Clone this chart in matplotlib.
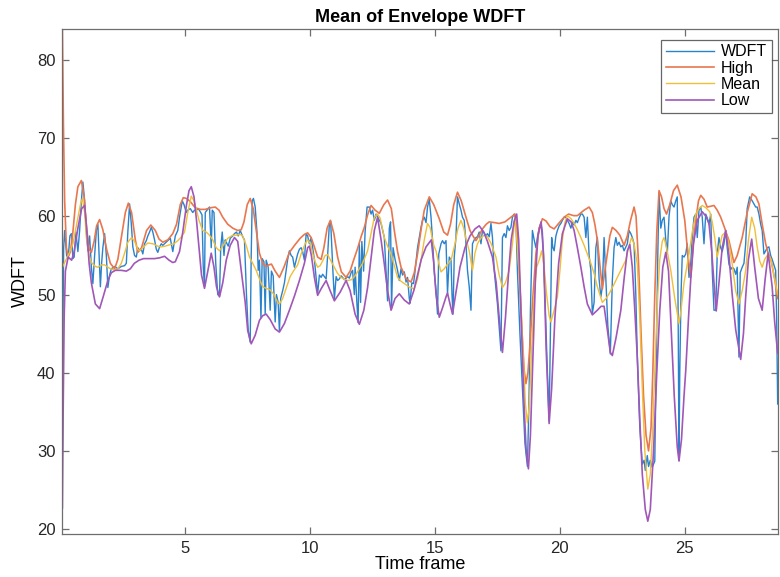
import matplotlib
matplotlib.use("Agg")
import matplotlib.pyplot as plt

plt.rcParams['font.family'] = ['Liberation Sans', 'DejaVu Sans']

# ---------------- data ----------------
wdft_x = [0.08, 0.1, 0.13, 0.17, 0.25, 0.31, 0.38, 0.44, 0.5, 0.55, 0.62, 0.7, 0.77, 0.84, 0.9, 0.97,
          1.04, 1.1, 1.17, 1.24, 1.3, 1.37, 1.44, 1.5, 1.55, 1.6, 1.65, 1.7, 1.77, 1.84, 1.9, 1.97,
          2.04, 2.17, 2.3, 2.44, 2.57, 2.64, 2.7, 2.77, 2.84, 2.9, 2.97, 3.04, 3.1, 3.17, 3.24, 3.3,
          3.37, 3.44, 3.5, 3.57, 3.64, 3.7, 3.77, 3.84, 3.9, 3.97, 4.04, 4.1, 4.2, 4.3, 4.4, 4.5,
          4.6, 4.7, 4.77, 4.88, 4.95, 5.04,
          5.1, 5.2, 5.3, 5.37, 5.44, 5.52, 5.6, 5.67, 5.72, 5.77, 5.8, 5.87, 5.97, 6.04, 6.08, 6.15,
          6.22, 6.3, 6.37, 6.42, 6.48, 6.55, 6.6, 6.64, 6.72, 6.8, 6.9, 6.97, 7.05, 7.12, 7.2, 7.3,
          7.37, 7.45, 7.52, 7.6, 7.64, 7.68, 7.73, 7.8, 7.87, 7.92, 7.97, 8.03, 8.08, 8.15, 8.2, 8.24,
          8.32, 8.4, 8.45, 8.52, 8.6, 8.65, 8.72, 8.77, 8.82, 8.9, 8.97, 9.04, 9.1, 9.17, 9.24, 9.3,
          9.37, 9.44, 9.5, 9.57, 9.64, 9.7, 9.77, 9.84,
          9.9, 9.97, 10.04, 10.1, 10.17, 10.24, 10.3, 10.37, 10.44, 10.5, 10.57, 10.64, 10.7, 10.77,
          10.82, 10.88, 10.91, 10.97, 11.04, 11.1, 11.17, 11.24, 11.3, 11.37, 11.44, 11.5, 11.57,
          11.64, 11.7, 11.77, 11.8, 11.87, 11.92, 11.97, 12.02, 12.07, 12.14, 12.2, 12.28, 12.37,
          12.44, 12.5, 12.57, 12.64, 12.77, 12.84, 12.97, 13.04, 13.1, 13.17, 13.22, 13.26, 13.32,
          13.4, 13.5, 13.57, 13.64, 13.7, 13.77, 13.84, 13.9, 13.97, 14.0, 14.07, 14.14, 14.2, 14.3,
          14.44, 14.5, 14.57, 14.64, 14.7, 14.77,
          14.84, 14.9, 14.97, 15.04, 15.1, 15.15, 15.24, 15.3, 15.37, 15.44, 15.5, 15.57, 15.64,
          15.68, 15.72, 15.77, 15.84, 15.9, 15.97, 16.04, 16.1, 16.17, 16.24, 16.3, 16.37, 16.44,
          16.5, 16.57, 16.64, 16.7, 16.77, 16.84, 16.9, 16.97, 17.04, 17.1, 17.17, 17.24, 17.3,
          17.37, 17.5, 17.64, 17.7, 17.77, 17.84, 17.9, 17.97, 18.04, 18.1, 18.17, 18.24, 18.3,
          18.4, 18.5, 18.6, 18.7, 18.76, 18.82, 18.9, 18.97, 19.04, 19.1, 19.17, 19.24, 19.3, 19.4,
          19.5, 19.57, 19.62, 19.67, 19.72, 19.77, 19.84, 19.9,
          19.97, 20.04, 20.1, 20.17, 20.24, 20.3, 20.37, 20.44, 20.5, 20.57, 20.64, 20.7, 20.77,
          20.84, 20.9, 20.97, 21.04, 21.1, 21.17, 21.24, 21.3, 21.37, 21.44, 21.5, 21.57, 21.64,
          21.7, 21.77, 21.84, 21.92, 22.02, 22.1, 22.17, 22.24, 22.3, 22.37, 22.44, 22.5, 22.57,
          22.64, 22.7, 22.77, 22.84, 22.9, 22.97, 23.04, 23.1, 23.2, 23.3, 23.37, 23.42, 23.5,
          23.55, 23.62, 23.7, 23.8, 23.85, 23.92, 23.97, 24.04, 24.1, 24.17, 24.24, 24.3, 24.37,
          24.44, 24.5, 24.57, 24.64, 24.7, 24.74, 24.77, 24.8,
          24.85, 24.9, 24.97, 25.04, 25.1, 25.17, 25.24, 25.3, 25.37, 25.44, 25.5, 25.57, 25.64,
          25.7, 25.77, 25.84, 25.9, 25.97, 26.04, 26.1, 26.17, 26.24, 26.3, 26.37, 26.44, 26.5,
          26.57, 26.64, 26.7, 26.77, 26.84, 26.9, 26.97, 27.04, 27.1, 27.17, 27.22, 27.3, 27.37,
          27.44, 27.5, 27.6, 27.7, 27.77, 27.84, 27.9, 27.97, 28.04, 28.1, 28.17, 28.24, 28.3,
          28.37, 28.44, 28.5, 28.57, 28.64, 28.68, 28.72]
wdft_y = [29.5, 45, 56, 58.2, 55, 54.6, 57.5, 57.8, 54.6, 54.8, 58, 55.5, 58.2, 62, 64.4, 62,
          58, 55.6, 57.5, 53.5, 51.4, 55, 58.2, 59, 55, 51, 54, 56, 57.8, 55, 50.9, 52.5,
          53.3, 53.6, 53.3, 53.6, 53.7, 54, 58, 61.6, 59, 56.1, 55, 54.8, 56, 55.6, 55.8, 55.2,
          56.5, 56.9, 57.5, 58, 58.6, 58, 57, 55.8, 55.4, 56.1, 56.5, 56.3, 56.6, 56.9, 57.2, 55.5,
          57.5, 58.2, 59.9, 62, 61.5, 60.5,
          60.8, 61, 60.5, 60.8, 60.8, 61, 60.6, 60.2, 53.5, 51, 60.5, 60.8, 61.2, 56, 60.8, 60.5,
          54, 50, 49.8, 56, 58, 55, 57, 56.7, 56.2, 57.2, 57.5, 57.8, 58, 57.5, 58.2, 57.4,
          57, 50, 45.4, 43.9, 55, 62, 62.3, 61.2, 58, 53.1, 54.4, 47, 54.6, 54.2, 47.5, 54.4,
          53.5, 48, 53, 52.4, 46.5, 50, 49, 45.3, 49.5, 50.5, 51.5, 53.1, 54.5, 55.6, 55, 54.8,
          53.5, 54.4, 55.2, 55.8, 56, 55.5, 54.4, 57.8,
          57.5, 56.5, 57.3, 56, 54.5, 52.2, 50.1, 52.5, 52.2, 52.6, 52.3, 52, 55, 59.1,
          59.4, 55, 53.1, 49.4, 52.3, 51.8, 52, 52.4, 52.2, 51.9, 52.1, 52.3, 52.1,
          52.8, 53.1, 50, 53.5, 49, 46.4, 56.5, 49, 56.8, 53, 58, 61.2, 61.2,
          60.3, 60.8, 59.5, 60.3, 59.5, 59.1, 57.3, 53, 49.2, 58.5, 59.3, 48.2, 56,
          54.5, 53.1, 51.8, 53.3, 52.5, 52.9, 51.6, 52.2, 49.5, 48.9, 51.5, 51.4, 53, 56,
          58.6, 59.5, 59.9, 59.2, 61.2, 62.2,
          59.9, 57, 52.9, 50.5, 47.5, 55.2, 56.5, 56.9, 56.5, 56.9, 50.1, 54.8, 54.4,
          50, 47.5, 54.8, 57.4, 62.5, 61.6, 60.8, 59.9, 59.5, 56.5, 53.1, 51, 48,
          56.5, 57, 57.3, 57.4, 58, 56.5, 58.2, 57.9, 57.5, 57.8, 57.4, 59.1, 57.3,
          53.1, 48.8, 42.8, 57.3, 57.8, 57.3, 58.8, 58.2, 58.6, 59.9, 60.3, 59.5, 53,
          45, 38, 31, 28, 36, 48, 58.2, 57, 56, 57.3, 58.5, 59.1, 58, 50,
          40, 33.8, 45, 57.3, 56, 55.6, 57.5, 58.2,
          58.8, 59.1, 59.5, 59.9, 59.9, 59.5, 59.1, 58.5, 59.2, 58.9, 59.5, 59.2, 59.8,
          60.3, 60.3, 59.9, 57.3, 59.9, 55, 53.1, 47.6, 49, 56, 57.3, 52, 49.7,
          51, 57.3, 52, 46, 42.4, 51.8, 56, 57.3, 56.3, 56.7, 56.1, 56.3, 55.6,
          56.1, 56.5, 58.2, 57.8, 57.3, 56.5, 50, 42, 33, 28.3, 28.8, 27.5, 29.4,
          28, 28.8, 27.9, 28.7, 40, 55, 63, 58.5, 59.5, 59.9, 57, 55.2, 60,
          62, 61.5, 61.2, 62, 62.5, 45, 28.8, 40,
          50, 55, 54.8, 55.2, 56.5, 52.2, 54, 57.3, 59.9, 60.3, 57.3, 60.8, 61.2,
          59.9, 56.5, 60.3, 59.8, 59, 60.3, 53.1, 48, 48, 55.2, 57.3, 56, 55.5,
          56.5, 58.2, 56, 53.9, 53.2, 53.5, 53.3, 52.6, 53.5, 42, 52.8, 53.5, 54,
          56.5, 61, 62.5, 62, 61.6, 61.2, 61.2, 60.3, 59, 58.2, 55.2, 55.6, 56,
          56.1, 55, 54.5, 53.8, 53.1, 47, 36]

high_x = [0.08, 0.12, 0.17, 0.24, 0.31, 0.4, 0.5, 0.6, 0.7, 0.84, 0.95, 1.05, 1.15, 1.24, 1.35,
          1.45, 1.57, 1.7, 1.85, 2.0, 2.17, 2.3, 2.45, 2.6, 2.72, 2.85, 3.0, 3.1, 3.25, 3.45, 3.62,
          3.8, 3.95, 4.1, 4.3, 4.5, 4.65, 4.8, 4.92, 5.05, 5.2, 5.4, 5.6, 5.8, 6.0, 6.2, 6.35, 6.5,
          6.7, 6.9, 7.1, 7.24, 7.35, 7.48, 7.6, 7.72, 7.85, 7.97, 8.1, 8.24, 8.35, 8.45, 8.6, 8.77,
          8.95, 9.17, 9.4, 9.6, 9.77, 9.9, 10.04, 10.17, 10.3, 10.44, 10.55, 10.68, 10.81, 10.95,
          11.1, 11.25, 11.44, 11.6, 11.75, 11.9, 12.05, 12.17, 12.3, 12.44, 12.6, 12.77, 12.95,
          13.1, 13.25, 13.37, 13.5, 13.64, 13.85, 14.04, 14.17, 14.3, 14.45, 14.57, 14.77, 14.95,
          15.17, 15.35, 15.5, 15.62, 15.75, 15.9, 16.05, 16.24, 16.4, 16.5, 16.64, 16.77, 16.9,
          17.05, 17.17, 17.4, 17.57, 17.8, 18.0, 18.2, 18.3, 18.37, 18.47, 18.57, 18.64, 18.72,
          18.8, 18.9, 19.04, 19.17, 19.3, 19.45, 19.6, 19.77, 19.95, 20.17, 20.35, 20.55, 20.7,
          20.97, 21.17, 21.3, 21.4, 21.5, 21.57, 21.7, 21.8, 21.9, 22.0, 22.1, 22.25, 22.4, 22.57,
          22.7, 22.83, 22.97, 23.05, 23.15, 23.25, 23.35, 23.45, 23.55, 23.65, 23.72, 23.8, 23.88,
          23.97, 24.07, 24.17, 24.27, 24.4, 24.55, 24.7, 24.85, 25.0, 25.1, 25.17, 25.24, 25.34,
          25.44, 25.55, 25.64, 25.77, 25.9, 26.04, 26.17, 26.3, 26.44, 26.6, 26.77, 26.97, 27.1,
          27.3, 27.5, 27.7, 27.85, 27.97, 28.1, 28.24, 28.34, 28.45, 28.6, 28.72]
high_y = [84, 72, 62, 56, 54.8, 55.5, 58, 61.5, 63.8, 64.6, 62.5, 58.5, 55.8, 55.4, 56.8,
          58.8, 59.6, 58.3, 55.8, 54, 53.3, 54.5, 57.5, 60.5, 61.7, 60.5, 57, 55.4, 56, 58.2, 58.9,
          58.2, 57.1, 56.7, 57, 57.8, 59, 61.5, 62.4, 62.3, 61.9, 61.1, 60.9, 60.9, 61.1, 61.2, 60.8, 59.9,
          59, 58.5, 58.2, 58.3, 59.3, 61.5, 62.3, 61, 58, 55.3, 54, 53.6, 53.8, 53.9, 53, 52.2,
          53.5, 55.4, 56.4, 57.2, 57.7, 57.9, 57.3, 56.1, 54.8, 54.5, 56, 58.5, 59.5, 57.8,
          54.8, 52.9, 52.2, 53, 54.5, 55.9, 57.5, 58.6, 60.2, 61.4, 60.8, 60.4, 61.5,
          62.1, 61, 58.2, 55.5, 53.5, 52, 51.6, 52.8, 55.2, 58.5, 60.8, 62.5, 61.5,
          59.7, 58, 57.6, 59, 61.5, 63.1, 62, 59.9, 58.2, 57.6, 56.9, 57.6, 58.4,
          59, 59.3, 59.2, 59.1, 59.3, 59.8, 60.3, 57.5, 53.1, 46, 40.3, 38.6, 40,
          43.5, 48.8, 55.2, 58.5, 59.7, 59.4, 58.7, 58.4, 59.1, 59.9, 60.3, 60.1, 60.1,
          60.8, 61.2, 60.5, 59, 57, 54.8, 50.7, 53, 55.2, 57.5, 58.6, 58.2, 57.6, 56.3,
          57.5, 59.5, 61.2, 60, 54, 45, 37, 32, 30, 33, 40, 50, 58,
          63.3, 62.5, 61, 60.3, 61.5, 63.3, 64, 62.5, 59.5, 56, 54, 52.2, 56.5,
          59.5, 62, 62.7, 62.2, 61.2, 61.3, 61.4, 60.8, 59.9, 58.5, 56.9, 54.1, 55,
          57.3, 60.5, 62.9, 62.5, 61.6, 59, 56.5, 55.3, 54.5, 52, 49.5]

mean_x = [0.08, 0.2, 0.35, 0.5, 0.65, 0.8, 0.88, 0.97, 1.04, 1.15, 1.24, 1.4, 1.5, 1.65, 1.77,
          1.95, 2.17, 2.3, 2.44, 2.57, 2.7, 2.85, 2.97, 3.1, 3.17, 3.3, 3.5, 3.7, 3.9, 4.04, 4.2,
          4.4, 4.55, 4.7, 4.85, 4.97, 5.1, 5.24, 5.35, 5.45, 5.55, 5.7, 5.84, 5.97, 6.1, 6.24,
          6.37, 6.5, 6.7, 6.9, 7.04, 7.2, 7.3, 7.45, 7.57, 7.7, 7.84, 7.97, 8.1, 8.24, 8.4, 8.55,
          8.7, 8.77, 8.9, 9.04, 9.2, 9.35, 9.5, 9.65, 9.8, 9.9, 10.0, 10.1, 10.2, 10.3, 10.4, 10.5,
          10.6, 10.7, 10.8, 10.95, 11.1, 11.24, 11.4, 11.5, 11.65, 11.8, 11.97, 12.1, 12.3, 12.45,
          12.57, 12.7, 12.8, 12.97, 13.1, 13.24, 13.37, 13.5, 13.64, 13.77, 13.95, 14.17, 14.3,
          14.44, 14.57, 14.7, 14.8, 14.95, 15.04, 15.15, 15.24, 15.37, 15.5, 15.65, 15.8, 15.92,
          16.04, 16.15, 16.25, 16.37, 16.5, 16.6, 16.7, 16.85, 16.97, 17.1, 17.25, 17.44, 17.57,
          17.7, 17.82, 17.97, 18.1, 18.2, 18.3, 18.44, 18.55, 18.62, 18.7, 18.78, 18.87, 18.97,
          19.07, 19.17, 19.27, 19.37, 19.47, 19.57, 19.64, 19.77, 19.9, 20.0, 20.1, 20.2, 20.3,
          20.45, 20.57, 20.7, 20.84, 20.97, 21.1, 21.24, 21.37, 21.5, 21.7, 21.85, 21.97, 22.15,
          22.3, 22.5, 22.64, 22.75, 22.87, 22.97, 23.1, 23.2, 23.3, 23.4, 23.52, 23.62, 23.72,
          23.82, 23.92, 24.0, 24.1, 24.17, 24.27, 24.44, 24.6, 24.77, 24.85, 24.97, 25.17, 25.3,
          25.44, 25.57, 25.7, 25.85, 26.0, 26.1, 26.2, 26.3, 26.4, 26.5, 26.64, 26.77, 26.9,
          27.04, 27.17, 27.3, 27.44, 27.55, 27.68, 27.8, 27.9, 28.0, 28.1, 28.2, 28.34, 28.45,
          28.6, 28.72]
mean_y = [53.5, 54.3, 55.3, 56.5, 59, 61.5, 62.3, 60.5, 57.3, 55, 54.1, 53.6, 53.5, 53.8, 53.8,
          53.4, 53.1, 53.3, 54, 55.3, 56.7, 57.3, 56.8, 55.8, 55.6, 56, 56.6, 56.5, 56.2, 56.1, 56.2,
          56.4, 56.5, 56.9, 57.4, 58, 60.5, 62.6, 62, 60.8, 59.5, 58.2, 58, 57.6, 57, 56,
          55.6, 56.2, 57.2, 57.6, 57.6, 57.7, 57.5, 56.2, 54.8, 54, 53.1, 52, 51, 50.8, 50.6, 50,
          49, 48.8, 49.5, 50.8, 52.3, 53.1, 53.8, 55.3, 56.5, 57, 56.6, 55.3, 54.2, 53.5, 53.7, 54.3,
          55, 55.1, 54.5, 53.6, 52.7, 52.2, 51.9, 51.8, 51.9, 52.4, 53.3, 54, 55.6, 58,
          59.9, 60.3, 59.8, 57.3, 56.2, 55.2, 53.7, 52.2, 51.7, 51.4, 51, 50.7, 52,
          54.4, 57, 59.1, 58.6, 56.3, 55.6, 54, 52.9, 53.3, 53.9, 54.5, 56.5, 58.5,
          59.5, 58.5, 57, 55.6, 53.1, 55.3, 56.5, 57.3, 57.6, 57.4, 56.5, 54.8, 52.5,
          50.9, 51.5, 53.1, 56.5, 59.9, 56, 48.8, 41, 36, 33.6, 36, 43, 50,
          53.5, 54.4, 55.6, 53.5, 50, 47.3, 46.5, 48, 49.7, 53, 57, 59.2, 60.1,
          59.7, 59.1, 58.3, 57.3, 56.3, 55.2, 54, 52.7, 51, 49, 49.5, 50.1, 51.2,
          52.2, 53.5, 54.4, 56, 57.3, 56.5, 53.9, 47, 38, 30, 25.1, 27, 33,
          42, 50, 54.5, 56.8, 57.3, 56, 53.1, 49.5, 46.3, 48, 51.5, 55.2, 58,
          60.3, 61, 61.4, 61.1, 60.6, 59.3, 57.3, 54.8, 56.3, 57.6, 58, 56.5, 53.9,
          50.5, 48.8, 50.5, 53.1, 57, 59.9, 58.5, 56.1, 54.3, 53.5, 54.5, 55.2, 54.5,
          52, 50]

low_x = [0.08, 0.11, 0.15, 0.2, 0.31, 0.45, 0.55, 0.7, 0.85, 0.97, 1.05, 1.15, 1.24, 1.4, 1.57,
         1.72, 1.9, 2.04, 2.2, 2.44, 2.64, 2.8, 2.96, 3.15, 3.33, 3.55, 3.77, 3.97, 4.17, 4.35,
         4.5, 4.6, 4.77, 4.9, 5.05, 5.15, 5.24, 5.35, 5.45, 5.55, 5.65, 5.77, 5.9, 6.04, 6.15,
         6.25, 6.37, 6.5, 6.64, 6.8, 6.97, 7.1, 7.24, 7.4, 7.5, 7.64, 7.8, 7.97, 8.1, 8.24, 8.4,
         8.6, 8.77, 8.97, 9.17, 9.37, 9.57, 9.77, 9.9, 9.97, 10.05, 10.17, 10.3, 10.45, 10.64,
         10.8, 10.97, 11.2, 11.44, 11.6, 11.8, 11.97, 12.15, 12.3, 12.45, 12.57, 12.7, 12.84,
         12.97, 13.1, 13.24, 13.4, 13.57, 13.77, 13.97, 14.15, 14.3, 14.45, 14.64, 14.85, 14.95,
         15.04, 15.17, 15.3, 15.44, 15.5, 15.6, 15.7, 15.85, 16.0, 16.2, 16.4, 16.6, 16.77,
         16.95, 17.1, 17.3, 17.45, 17.57, 17.7, 17.82, 17.95, 18.05, 18.17, 18.27, 18.35, 18.45,
         18.55, 18.65, 18.74, 18.82, 18.92, 19.02, 19.12, 19.25, 19.35, 19.45, 19.57, 19.67,
         19.8, 19.95, 20.1, 20.3, 20.45, 20.57, 20.7, 20.84, 20.97, 21.1, 21.3, 21.5, 21.65,
         21.77, 21.9, 22.02, 22.1, 22.25, 22.44, 22.57, 22.7, 22.8, 22.9, 23.0, 23.1, 23.2, 23.3,
         23.42, 23.52, 23.62, 23.75, 23.88, 24.0, 24.12, 24.24, 24.35, 24.45, 24.58, 24.7,
         24.77, 24.87, 24.97, 25.04, 25.15, 25.24, 25.35, 25.5, 25.7, 25.85, 25.97, 26.08,
         26.17, 26.26, 26.37, 26.5, 26.64, 26.77, 26.9, 27.04, 27.24, 27.35, 27.44, 27.55,
         27.68, 27.8, 27.95, 28.1, 28.22, 28.34, 28.5, 28.6, 28.72]
low_y = [22.7, 35, 47, 53, 54.8, 54.4, 55.5, 58.5, 61, 61.4, 58.5, 54, 51.5, 48.8, 48.2,
         49.8, 51.8, 52.8, 53.1, 53.1, 53, 53.3, 54, 54.4, 54.6, 54.6, 54.6, 54.7, 54.9, 54.4,
         54.1, 54.2, 55.5, 58, 61.5, 63.3, 63.8, 62.5, 59.5, 56, 52.5, 50.8, 53, 55.3, 53.5,
         51, 49.7, 51.5, 54.4, 56.3, 57.3, 56.8, 53.1, 49, 45.4, 43.7, 44.8, 46.7, 47.3, 47.5, 46.8,
         45.6, 45.2, 46.3, 48, 49.8, 51.8, 54, 56, 56.2, 55, 52.2, 49.9, 50.8, 51.8,
         50.5, 49.2, 50.3, 51.8, 50.5, 47.5, 46.2, 48, 50.9, 55, 58.2, 59.9, 57,
         53.9, 50.5, 48, 49.5, 50.1, 49.3, 48.8, 50.5, 52.5, 54.5, 56.1, 57, 54,
         50.1, 47.1, 48.3, 49.7, 50.2, 48.8, 47.5, 50.5, 53.5, 56, 57.5, 58.4, 58.8,
         58, 56.8, 54.8, 51.5, 47, 42.6, 47, 53, 57, 59.4, 60.3, 57, 47,
         37, 30, 27.7, 32, 42, 52, 57.5, 59.3, 55, 43, 33.5, 38,
         47, 54, 57.8, 59.7, 59.3, 58.2, 56, 53.5, 51, 48.8, 47.4, 48, 48.5,
         48.5, 45.5, 42.6, 42.2, 44.5, 48, 52, 55.6, 56.4, 53.5, 48, 42, 34, 27,
         22.5, 21.0, 22.5, 30, 40, 48, 53.5, 55.4, 53, 46, 37, 30.5,
         28.7, 31.5, 37, 40.3, 47, 52, 56.5, 59.5, 60.6, 60, 59.1, 55.5,
         51.5, 47.9, 51.5, 56, 58.2, 55, 50, 45.5, 41.7, 45, 49.7, 54.5,
         57.1, 53.5, 49.5, 48, 52, 55.3, 51, 46.5, 42.5]

series_labels = ['WDFT', 'High', 'Mean', 'Low']
x_ticks = [5, 10, 15, 20, 25]
y_ticks = [20, 30, 40, 50, 60, 70, 80]

# ---------------- figure ----------------
fig = plt.figure(figsize=(7.8, 5.77), dpi=100)
ax = fig.add_axes([0.080, 0.075, 0.917, 0.875])

c_blue = '#2a82cc'
c_orange = '#e8774f'
c_yellow = '#efbf3a'
c_purple = '#a057b8'

ax.plot(wdft_x, wdft_y, color=c_blue, lw=1.0, label=series_labels[0])
ax.plot(high_x, high_y, color=c_orange, lw=1.2, label=series_labels[1])
ax.plot(mean_x, mean_y, color=c_yellow, lw=1.0, label=series_labels[2])
ax.plot(low_x, low_y, color=c_purple, lw=1.2, label=series_labels[3])

ax.set_xlim(0.08, 28.72)
ax.set_ylim(19.4, 84.0)
ax.set_xticks(x_ticks)
ax.set_yticks(y_ticks)

axis_col = '#6e6e6e'
for s in ax.spines.values():
    s.set_color(axis_col)
    s.set_linewidth(0.9)
ax.tick_params(direction='in', length=5, width=0.9, color=axis_col,
               top=True, right=True, labelsize=12, labelcolor='#262626', pad=5)

ax.set_title('Mean of Envelope WDFT', fontsize=13, fontweight='bold', pad=5)
ax.set_xlabel('Time frame', fontsize=13, labelpad=0)
ax.set_ylabel('WDFT', fontsize=13, labelpad=6)

leg = ax.legend(loc='upper right', bbox_to_anchor=(0.999, 0.988), fontsize=11.5,
                frameon=True, fancybox=False, handlelength=3.0, handletextpad=0.45,
                labelspacing=0.08, borderpad=0.3, borderaxespad=0.3)
leg.get_frame().set_edgecolor('#404040')
leg.get_frame().set_linewidth(0.9)

fig.savefig('out.png', dpi=100)
